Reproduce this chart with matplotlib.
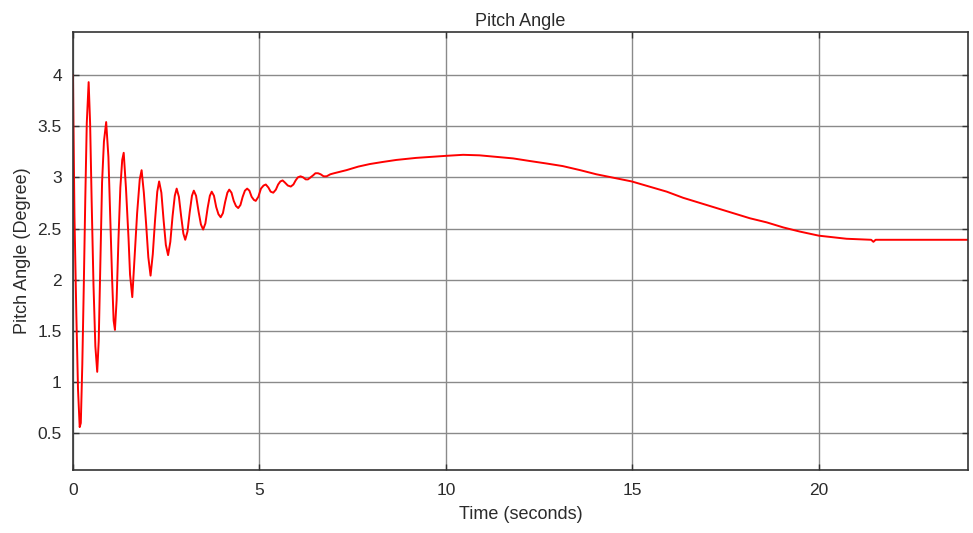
import matplotlib
matplotlib.use("Agg")
import matplotlib.pyplot as plt

plt.rcParams['font.family'] = ['Liberation Sans', 'DejaVu Sans']

# Pitch angle response
time_s = [0.00, 0.01, 0.04, 0.09, 0.135, 0.18,
          0.21, 0.25, 0.29, 0.33, 0.37, 0.42,
          0.46, 0.50, 0.55, 0.60, 0.65,
          0.69, 0.73, 0.78, 0.83, 0.89,
          0.95, 1.00, 1.05, 1.09, 1.125,
          1.17, 1.22, 1.27, 1.32, 1.36,
          1.42, 1.49, 1.53, 1.59,
          1.65, 1.72, 1.79, 1.84,
          1.90, 1.96, 2.02, 2.08,
          2.14, 2.20, 2.26, 2.31,
          2.37, 2.43, 2.49, 2.55,
          2.61, 2.67, 2.73, 2.78,
          2.84, 2.90, 2.96, 3.01,
          3.07, 3.13, 3.19, 3.24,
          3.30, 3.37, 3.43, 3.49,
          3.55, 3.61, 3.67, 3.72,
          3.78, 3.84, 3.90, 3.96,
          4.02, 4.08, 4.14, 4.19,
          4.25, 4.31, 4.37, 4.43,
          4.49, 4.55, 4.61, 4.67,
          4.73, 4.79, 4.85, 4.90,
          4.97, 5.04, 5.11, 5.17,
          5.24, 5.30, 5.37, 5.44, 5.50, 5.56, 5.62, 5.68, 5.76, 5.84,
          5.91, 5.97, 6.03, 6.10, 6.17, 6.24, 6.30, 6.37, 6.44, 6.50,
          6.57, 6.64, 6.72, 6.80, 6.90, 7.00, 7.33, 7.65, 7.96, 8.30,
          8.67, 9.20, 9.60, 10.00, 10.46, 10.90, 11.35, 11.80, 12.24, 12.70,
          13.13, 13.60, 14.03, 14.50, 14.98, 15.45, 15.92, 16.36, 16.81, 17.26,
          17.71, 18.15, 18.60, 19.05, 19.49, 20.00, 20.74, 21.40, 21.46, 21.52,
          24.00]
pitch_deg = [4.00, 3.60, 2.62, 1.66, 0.93, 0.56,
             0.60, 1.17, 1.94, 2.79, 3.53, 3.93,
             3.52, 2.78, 1.95, 1.35, 1.10,
             1.40, 2.10, 2.95, 3.35, 3.54,
             3.20, 2.60, 2.00, 1.60, 1.51,
             1.80, 2.40, 2.90, 3.17, 3.24,
             2.90, 2.40, 2.05, 1.83,
             2.20, 2.65, 2.98, 3.07,
             2.85, 2.55, 2.22, 2.04,
             2.25, 2.58, 2.86, 2.96,
             2.85, 2.58, 2.34, 2.24,
             2.37, 2.62, 2.82, 2.89,
             2.81, 2.62, 2.45, 2.39,
             2.47, 2.66, 2.82, 2.87,
             2.82, 2.66, 2.54, 2.49,
             2.55, 2.70, 2.82, 2.86,
             2.82, 2.71, 2.64, 2.61,
             2.65, 2.76, 2.85, 2.88,
             2.85, 2.77, 2.72, 2.70,
             2.73, 2.81, 2.87, 2.89,
             2.87, 2.81, 2.78, 2.77,
             2.81, 2.89, 2.92, 2.93,
             2.90, 2.86, 2.85, 2.88, 2.93, 2.96, 2.97, 2.95, 2.92, 2.91,
             2.93, 2.97, 3.00, 3.01, 3.00, 2.98, 2.98, 3.00, 3.02, 3.04,
             3.04, 3.03, 3.01, 3.01, 3.03, 3.04, 3.07, 3.105, 3.13, 3.15,
             3.17, 3.19, 3.20, 3.21, 3.22, 3.215, 3.20, 3.185, 3.16, 3.135,
             3.11, 3.07, 3.03, 2.995, 2.96, 2.91, 2.86, 2.80, 2.75, 2.70,
             2.65, 2.60, 2.56, 2.51, 2.47, 2.43, 2.40, 2.39, 2.37, 2.39,
             2.39]

x_ticks = [0, 5, 10, 15, 20]
y_ticks = [0.5, 1, 1.5, 2, 2.5, 3, 3.5, 4]
y_tick_labels = ['0.5', '1', '1.5', '2', '2.5', '3', '3.5', '4']

fig = plt.figure(figsize=(9.73, 5.33), dpi=100)
ax = fig.add_axes([0.075, 0.118, 0.92, 0.822])

ax.plot(time_s, pitch_deg, color='#ff0000', lw=1.4)

ax.set_xlim(0, 24)
ax.set_ylim(0.14, 4.42)
ax.set_xticks(x_ticks)
ax.set_yticks(y_ticks)
ax.set_yticklabels(y_tick_labels)
ax.grid(True, color='#8a8a8a', lw=1.0)
ax.set_axisbelow(True)

ax.tick_params(direction='in', length=4.5, width=1.0, color='#333333',
               top=True, right=True, labelsize=12.5, labelcolor='#2b2b2b')
ax.tick_params(axis='x', pad=9)
ax.tick_params(axis='y', pad=8)
for s in ax.spines.values():
    s.set_color('#333333')
    s.set_linewidth(1.2)

ax.set_title('Pitch Angle', fontsize=13, color='#2b2b2b', pad=4)
ax.set_xlabel('Time (seconds)', fontsize=13, color='#2b2b2b', labelpad=6)
ax.set_ylabel('Pitch Angle (Degree)', fontsize=13, color='#2b2b2b', labelpad=5)

fig.savefig('out.png', dpi=100)
